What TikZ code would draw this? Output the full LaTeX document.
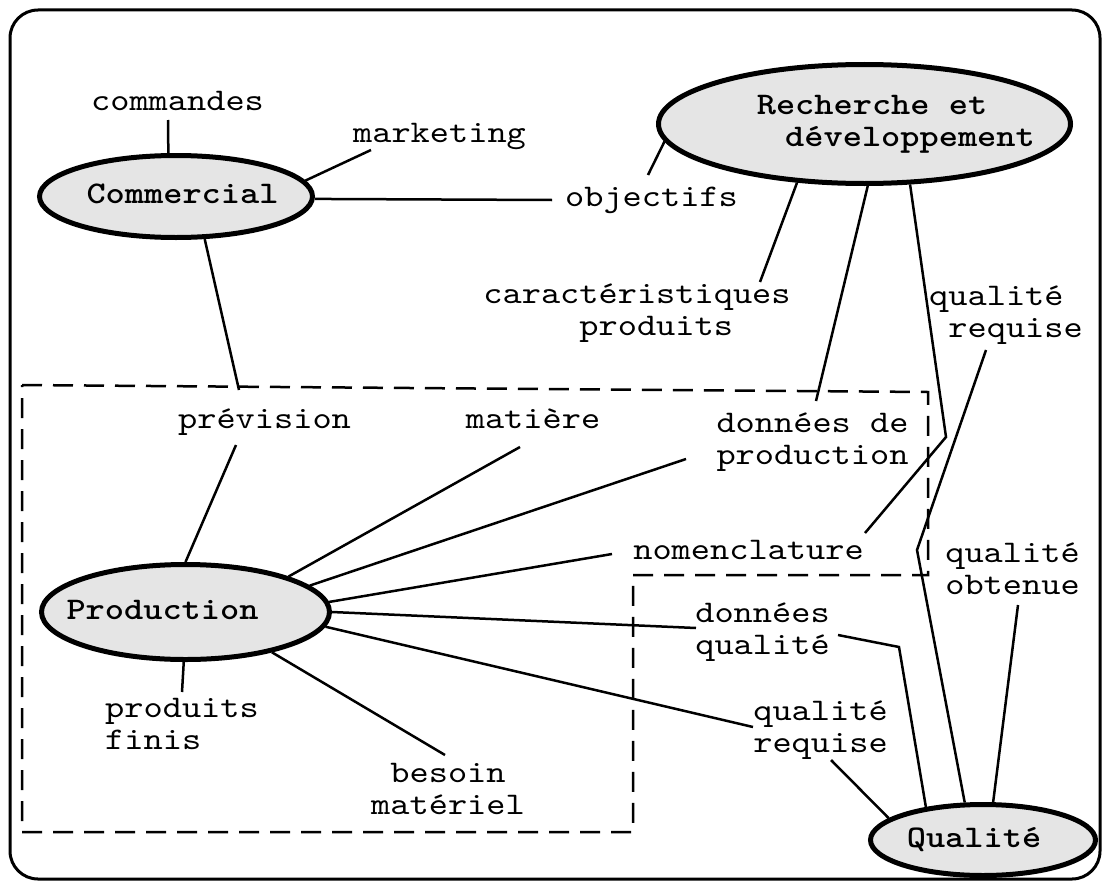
\documentclass[tikz,border=0pt]{standalone}
\usepackage{fontspec}
\usetikzlibrary{shapes.geometric}
\newfontfamily\cour[FakeStretch=1.161, BoldFont=lmmonolt10-bold.otf]{lmmono10-regular.otf}
\newcommand\twoL[2]{\vtop{\halign{##\hfil\cr#1\cr#2\cr}}}
\newcommand\twoC[2]{\vtop{\halign{\hfil##\hfil\cr#1\cr#2\cr}}}
\tikzset{
  lbl/.style={font=\cour\fontsize{31.5}{32}\selectfont, inner sep=0pt, anchor=base},
  boldlbl/.style={font=\cour\bfseries\fontsize{31.5}{32}\selectfont, inner sep=0pt, anchor=base},
  ell/.style={ellipse, draw, line width=5pt, fill=black!10, inner sep=0pt},
  conn/.style={line width=2.5pt, line join=miter},
  zone/.style={line width=2.5pt, dash pattern=on 20pt off 11pt},
  frame/.style={rounded corners=28pt, line width=3pt}
}
\begin{document}
\begin{tikzpicture}[x=1pt,y=-1pt]
\useasboundingbox (0,0) rectangle (1105,883);
\draw[frame] (10,10) rectangle (1100,879);
% dashed production zone
\draw[zone] (22,385) -- (928,392) -- (928,575) -- (633,575) -- (633,832) -- (22,832) -- cycle;
% ellipses
\node[ell, minimum width=273pt, minimum height=82pt] (com) at (176,196.5) {};
\node[ell, minimum width=412pt, minimum height=119pt] (rd) at (864.5,124) {};
\node[ell, minimum width=288pt, minimum height=95pt] (prod) at (185.5,612) {};
\node[ell, minimum width=225pt, minimum height=71pt] (qual) at (983,840) {};
\node[boldlbl] (comt) at (182.5,203) {Commercial};
\node[boldlbl] (rdt) at (895.8,114) {\twoL{Recherche et}{\hspace*{28.4pt}développement}};
\node[boldlbl] (prodt) at (162.5,619) {Production};
\node[boldlbl] (qualt) at (974,847) {Qualité};
% labels
\node[lbl] (cmd) at (177.5,110) {commandes};
\node[lbl] (mkt) at (439.5,142) {marketing};
\node[lbl] (obj) at (651.5,206) {objectifs};
\node[lbl] (car) at (637,303) {\twoL{caractéristiques}{\hspace*{96pt}produits}};
\node[lbl] (prev) at (264.5,428) {prévision};
\node[lbl] (mat) at (533,428) {matière};
\node[lbl] (dprod) at (812.5,432) {\twoC{données de}{production}};
\node[lbl] (qreqa) at (1006,305) {\twoL{qualité}{\hspace*{19.2pt}requise}};
\node[lbl] (nom) at (748.5,559) {nomenclature};
\node[lbl] (qobt) at (1012.5,562) {\twoC{qualité}{obtenue}};
\node[lbl] (dqual) at (762.5,622) {\twoC{données}{qualité}};
\node[lbl] (qreqb) at (820.5,720) {\twoC{qualité}{requise}};
\node[lbl] (pfin) at (182,717) {\twoL{produits}{finis}};
\node[lbl] (bes) at (448,782) {\twoC{besoin}{matériel}};
% connector end points
\coordinate (cmdE) at (168,120);
\coordinate (mktE) at (371,150);
\coordinate (objW) at (552,200);
\coordinate (objE) at (648,175);
\coordinate (carE) at (760,282);
\coordinate (dprodN) at (816,401);
\coordinate (rdBend) at (946,437);
\coordinate (nomN) at (865,533);
\coordinate (qreqaS) at (986,350);
\coordinate (qreqaBend) at (917,550);
\coordinate (prevN) at (239,390);
\coordinate (prevS) at (236,445);
\coordinate (matS) at (520,447);
\coordinate (dprodW) at (686,459);
\coordinate (nomW) at (612,554);
\coordinate (dqualW) at (696,628);
\coordinate (qreqbW) at (753,727);
\coordinate (besN) at (445,755);
\coordinate (pfinN) at (182,692);
\coordinate (dqualE) at (838,635);
\coordinate (dqualBend) at (899,647);
\coordinate (qobtS) at (1018,605);
\coordinate (qreqbS) at (831,760);
% connectors
\draw[conn] (com.100.7) -- (cmdE);
\draw[conn] (com.7.5) -- (mktE);
\draw[conn] (com.-1.5) -- (objW);
\draw[conn] (objE) -- (rd.185.4);
\draw[conn] (rd.221) -- (carE);
\draw[conn] (rd.-87.6) -- (dprodN);
\draw[conn] (rd.-53.1) -- (rdBend) -- (nomN);
\draw[conn] (qreqaS) -- (qreqaBend) -- (qual.116);
\draw[conn] (com.-56) -- (prevN);
\draw[conn] (prevS) -- (prod.90);
\draw[conn] (prod.19) -- (matS);
\draw[conn] (prod.12) -- (dprodW);
\draw[conn] (prod.4) -- (nomW);
\draw[conn] (prod.-0.5) -- (dqualW);
\draw[conn] (prod.-6.5) -- (qreqbW);
\draw[conn] (prod.-25.6) -- (besN);
\draw[conn] (prod.-92) -- (pfinN);
\draw[conn] (dqualE) -- (dqualBend) -- (qual.150);
\draw[conn] (qobtS) -- (qual.75);
\draw[conn] (qreqbS) -- (qual.167);
\end{tikzpicture}
\end{document}
